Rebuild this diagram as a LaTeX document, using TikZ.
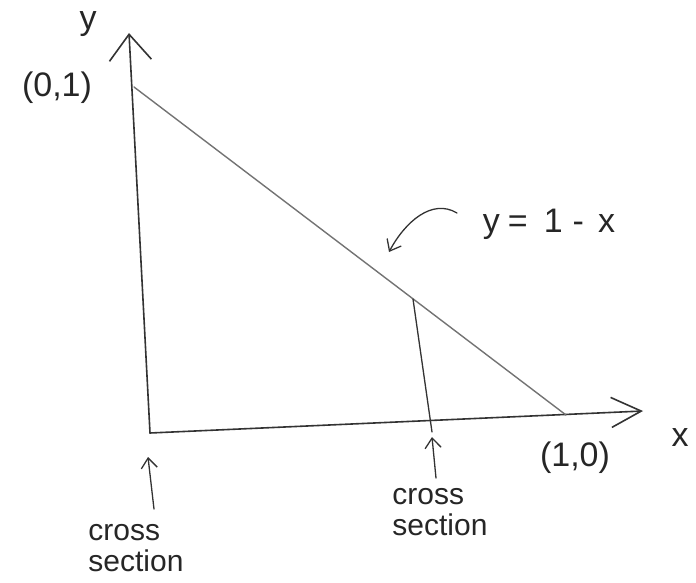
\documentclass[tikz,border=0pt]{standalone}
\usepackage{fontspec}
\setmainfont{Liberation Sans}
\usetikzlibrary{arrows.meta}
\begin{document}
\begin{tikzpicture}[x=1pt,y=-1pt,
  axis/.style={draw=black!80,line width=1.6pt,line cap=round},
  hyp/.style={draw=black!55,line width=1.4pt,line cap=round},
  bigtip/.style={-{Straight Barb[length=26pt,width=42pt,line width=1.6pt]}},
  xtip/.style={-{Straight Barb[length=30pt,width=30pt,line width=1.6pt]}},
  smalltip/.style={-{Straight Barb[length=10pt,width=16pt,line width=1.3pt]}},
  lbl/.style={inner sep=0pt,text=black!85,font=\fontsize{34}{36}\selectfont},
  small/.style={inner sep=0pt,align=left,text=black!85,font=\fontsize{30}{31}\selectfont}]
\useasboundingbox (0,0) rectangle (696,583);
% axes
\coordinate (O) at (150,433);
\coordinate (Ytip) at (129,33);
\coordinate (Xtip) at (643,411);
\draw[axis,bigtip] (O) -- (Ytip);
\draw[axis,xtip] (O) -- (Xtip);
% hypotenuse
\coordinate (A) at (134,87);
\coordinate (B) at (566,415);
\draw[hyp] (A) -- (B);
% cross section line
\coordinate (C) at (413,299);
\coordinate (D) at (432,432);
\draw[axis,line width=1.3pt] (C) -- (D);
% labels
\node[lbl] (ylab) at (88,24) {y};
\node[lbl] (p01) at (57,88) {(0,1)};
\node[lbl] (xlab) at (680,438) {x};
\node[lbl] (p10) at (575,458) {(1,0)};
\node[lbl] (eq) at (549,224) {y\hspace{8pt}=\hspace{16pt}1\hspace{10pt}-\hspace{14pt}x};
% curved arrow to hypotenuse
\coordinate (ctail) at (457,213);
\coordinate (ctip) at (389,252);
\draw[axis,line width=1.3pt,smalltip] (ctail) .. controls (432,198) and (405,222) .. (ctip);
% cross section labels
\node[small] (cs1) at (136,548) {cross\\section};
\node[small] (cs2) at (440,512) {cross\\section};
\coordinate (a1t) at (148,457);
\coordinate (a2t) at (432,437);
\draw[axis,line width=1.3pt,smalltip] (cs1.north) ++(18,-15) coordinate (a1s) -- (a1t);
\draw[axis,line width=1.3pt,smalltip] (cs2.north) ++(-4,-10) coordinate (a2s) -- (a2t);
\end{tikzpicture}
\end{document}
